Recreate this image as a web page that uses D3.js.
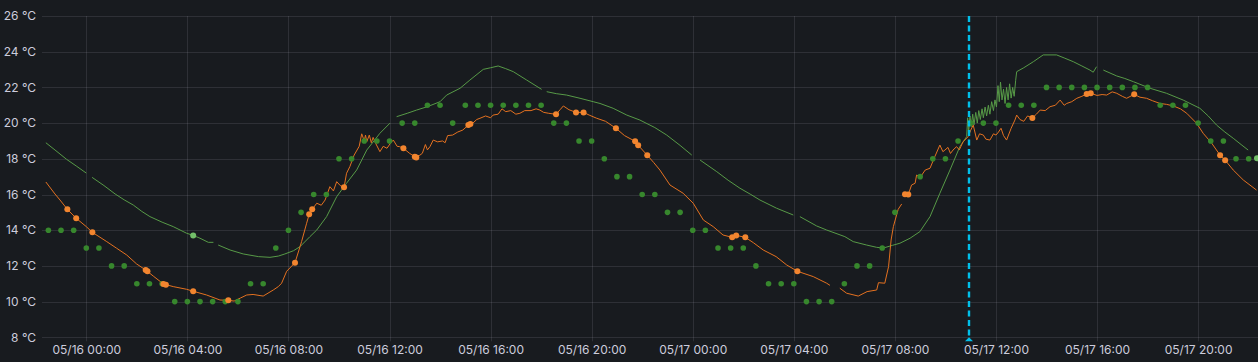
<!DOCTYPE html>
<html>
<head>
<meta charset="utf-8">
<script src="https://cdn.jsdelivr.net/npm/d3@7"></script>
<style>
  html, body { margin: 0; padding: 0; background: #181b1f; }
  svg { display: block; font-family: Inter, "Noto Sans", sans-serif; }
  .lbl { fill: #ccccdc; font-size: 12px; }
</style>
</head>
<body>
<svg width="1258" height="362"></svg>
<script>
// hours relative to 05/16 00:00
let baseDate = new Date(2024, 4, 16, 0, 0);
let viewHours = [-1.753, 46.37];
let yTicks = [8, 10, 12, 14, 16, 18, 20, 22, 24, 26];
let annotationHour = 34.94;

// outdoor (green line), null breaks the line
let outdoor = [
  [-1.6,18.9],[-1.2,18.45],[-0.78,17.97],[-0.4,17.6],[0,17.2],null,
  [0.23,16.96],[0.7,16.5],[1.14,16.03],[1.5,15.7],[1.86,15.41],[2.2,15.05],[2.52,14.76],
  [3.0,14.45],[3.44,14.2],[3.97,13.83],[4.23,13.71],[4.5,13.55],[4.83,13.32],[5.03,13.32],null,
  [5.22,13.17],[5.69,12.89],[6.21,12.67],[6.81,12.52],[7.27,12.48],[7.6,12.55],[7.86,12.67],
  [8.2,12.85],[8.46,13.08],[8.85,13.64],[9.12,14.01],[9.51,14.76],[9.91,15.88],[10.3,16.63],
  [10.7,17.37],[11.1,18.49],[11.62,19.43],[12.02,20.0],null,
  [12.28,20.36],[12.7,20.55],[13.07,20.73],[13.5,20.92],[14.0,21.2],[14.26,21.57],[14.79,21.95],
  [15.18,22.41],[15.71,23.01],[16.0,23.1],[16.3,23.2],[16.6,23.05],[16.9,22.88],[17.43,22.41],
  [18.02,21.89],null,
  [18.22,21.76],[18.6,21.65],[19.01,21.57],[19.54,21.39],[20.06,21.2],[20.33,21.1],[20.85,20.83],
  [21.39,20.45],[21.91,20.17],[22.5,19.75],[22.97,19.33],[23.5,18.75],[23.96,18.21],null,
  [24.29,17.93],[24.95,17.28],[25.4,16.8],[25.87,16.35],[26.3,16.0],[26.66,15.69],[27.32,15.23],
  [27.98,14.85],null,
  [28.24,14.76],[28.9,14.24],[29.3,14.01],[30.02,13.64],[30.35,13.36],[30.88,13.17],[31.28,13.04],
  [31.54,13.0],[31.9,13.15],[32.2,13.27],[32.6,13.55],[32.99,13.92],[33.39,14.76],[33.78,16.07],
  [34.18,17.37],[34.57,18.68],[34.84,19.24],
  [34.88,20.3],[34.92,19.5],[34.97,20.4],[35.02,19.8],[35.08,20.5],[35.13,19.9],[35.2,20.6],
  [35.26,20.0],[35.32,20.7],[35.38,20.2],[35.45,20.8],[35.5,20.3],[35.57,20.9],[35.63,20.4],
  [35.7,21.0],[35.76,20.5],[35.83,21.2],[35.9,20.7],[35.96,21.3],[36.02,20.9],[36.08,22.1],
  [36.13,21.2],[36.18,22.3],[36.24,21.3],[36.3,21.9],[36.36,21.1],[36.42,22.0],[36.48,21.3],
  [36.54,22.2],[36.6,21.4],[36.66,22.0],[36.72,21.5],[36.78,22.4],[36.82,22.88],[37.1,23.1],
  [37.48,23.44],[37.87,23.82],[38.4,23.82],[38.7,23.65],[39.06,23.44],[39.4,23.2],[39.72,22.97],
  [39.85,22.85],[39.98,23.16],null,
  [40.25,22.97],[40.78,22.64],[41.1,22.5],[41.44,22.32],[42.1,21.95],[42.75,21.67],[43.41,21.29],
  [44.07,20.83],[44.4,20.4],[44.73,19.89],[45.06,19.5],[45.39,19.15],[45.7,18.8],[45.98,18.49],null,
  [46.33,18.03]
];
// isolated points of the green line
let outdoorPoints = [[4.23,13.71],[46.33,18.03]];

// indoor (orange line)
let indoor = [
  [-1.6,16.7],[-1.24,16.03],[-1.04,15.69],[-0.75,15.17],[-0.4,14.67],[0,14.2],[0.24,13.88],
  [0.81,13.36],[1.2,12.99],[1.6,12.61],[1.99,12.11],[2.35,11.77],[2.65,11.43],[3.05,10.99],
  [3.44,10.84],[3.97,10.69],[4.23,10.58],[4.76,10.37],[5.29,10.09],[5.62,10.07],[5.85,10.03],
  [6.1,10.2],[6.35,10.37],[6.6,10.4],[7.0,10.31],[7.4,10.65],[7.6,10.84],[7.73,11.03],[7.93,11.7],
  [8.26,12.18],[8.52,13.36],[8.72,14.39],[8.82,14.89],[8.94,15.17],[9.12,15.51],[9.3,15.4],
  [9.45,15.69],[9.64,16.44],[9.78,16.2],[9.91,16.72],[10.05,16.5],[10.2,16.4],[10.3,17.19],
  [10.43,17.56],[10.6,18.21],[10.8,18.7],[10.9,19.4],[11.0,19.0],[11.05,19.33],[11.1,18.96],
  [11.2,19.33],[11.28,18.9],[11.35,19.2],[11.45,18.87],[11.62,18.4],[11.75,18.7],[11.9,18.59],
  [12.05,18.9],[12.15,19.05],[12.3,18.7],[12.4,18.68],[12.55,18.59],[12.8,18.3],[13.0,18.12],
  [13.2,18.2],[13.3,18.31],[13.42,18.8],[13.5,18.5],[13.6,18.68],[13.73,19.05],[13.9,18.95],
  [14.1,19.0],[14.2,18.9],[14.3,19.3],[14.5,19.33],[14.7,19.5],[14.9,19.61],[15.12,19.89],
  [15.3,20.0],[15.45,20.2],[15.58,20.27],[15.8,20.4],[16.0,20.3],[16.1,20.45],[16.3,20.5],
  [16.45,20.8],[16.6,20.64],[16.8,20.7],[17.0,20.5],[17.16,20.55],[17.35,20.7],[17.6,20.7],
  [17.8,20.8],[17.95,20.73],[18.1,20.6],[18.3,20.55],[18.59,20.49],[18.75,20.75],[18.88,20.96],
  [19.1,20.75],[19.38,20.6],[19.68,20.6],[19.9,20.45],[20.2,20.27],[20.55,20.1],[20.96,19.71],
  [21.3,19.3],[21.72,18.98],[21.84,18.76],[22.2,18.2],[22.45,17.8],[22.7,17.37],[23.1,16.53],
  [23.62,16.07],[24.02,15.51],[24.42,14.57],[24.81,14.2],[25.2,13.73],[25.56,13.6],[25.72,13.71],
  [26.08,13.6],[26.4,13.3],[26.79,12.89],[27.3,12.52],[27.72,12.05],[28.14,11.7],[28.77,11.4],
  [29.3,11.03],[29.43,10.91],null,
  [29.82,10.75],[30.09,10.47],[30.55,10.31],[30.9,10.56],[31.28,10.65],[31.35,11.06],[31.6,11.03],
  [31.75,11.96],[31.85,13.45],[31.94,14.2],[32.13,15.17],[32.27,15.47],null,
  [32.4,16.01],[32.53,16.0],[32.66,16.53],[32.8,16.63],[32.86,17.09],[33.0,16.96],[33.2,17.37],
  [33.39,17.47],[33.58,18.12],[33.78,18.77],[33.9,18.4],[33.98,18.49],[34.1,18.64],[34.2,18.3],
  [34.3,18.49],[34.44,18.68],[34.55,18.5],[34.7,18.96],[34.9,19.24],[35.0,19.6],[35.1,19.89],
  [35.24,19.05],[35.35,19.4],[35.5,19.33],[35.6,19.1],[35.76,19.05],[35.9,19.4],[36.0,19.33],
  [36.1,19.5],[36.2,19.71],[36.3,19.3],[36.42,19.05],[36.6,19.71],[36.75,20.17],[36.82,20.45],
  [36.95,20.2],[37.1,20.1],[37.25,20.4],[37.44,20.29],[37.6,20.5],[37.75,20.73],[37.95,20.7],
  [38.14,20.92],[38.35,21.0],[38.54,21.29],[38.7,21.0],[38.8,21.1],[39.0,21.2],[39.2,21.39],
  [39.4,21.5],[39.59,21.63],[39.75,21.67],[40.0,21.55],[40.2,21.6],[40.38,21.57],[40.6,21.75],
  [40.78,21.67],[41.0,21.5],[41.17,21.39],[41.47,21.61],[41.7,21.45],[41.96,21.39],[42.2,21.25],
  [42.49,21.1],[42.75,21.05],[43.02,20.96],[43.3,20.8],[43.55,20.55],[43.94,19.99],[44.2,19.43],
  [44.54,18.87],[44.87,18.2],[45.07,17.92],[45.39,17.37],[45.79,16.81],[46.31,16.25]
];
let indoorPoints = [
  [-0.75,15.17],[-0.4,14.67],[0.24,13.88],[2.35,11.77],[2.42,11.7],[3.05,10.99],[3.15,10.95],
  [4.23,10.58],[5.62,10.07],[8.26,12.18],[8.82,14.89],[8.94,15.17],[10.2,16.4],[12.55,18.59],
  [13.0,18.12],[13.06,18.07],[15.12,19.89],[15.2,19.95],[18.59,20.49],[19.38,20.6],[19.68,20.6],
  [20.96,19.71],[21.72,18.98],[21.84,18.76],[22.2,18.2],[25.56,13.6],[25.72,13.71],[26.08,13.6],
  [28.14,11.7],[32.4,16.01],[32.53,16.0],[37.44,20.29],[39.59,21.63],[39.75,21.67],[41.47,21.61],
  [44.87,18.2],[45.07,17.92]
];

// forecast (green dots), every half hour
let forecastHours = [
  -1.5,-1,-0.5,0,0.5,1,1.5,2,2.5,3,3.5,4,4.5,5,5.5,6,6.5,7,7.5,8,8.5,9,9.5,10,10.5,11,11.5,12,
  12.5,13,13.5,14,14.5,15,15.5,16,16.5,17,17.5,18,18.5,19,19.5,20,20.5,21,21.5,22,22.5,23,23.5,
  24,24.5,25,25.5,26,26.5,27,27.5,28,28.5,29,29.5,30,30.5,31,31.5,32,32.5,33,33.5,34,34.5,35,
  35.5,36,36.5,37,37.5,38,38.5,39,39.5,40,40.5,41,41.5,42,42.5,43,43.5,44,44.5,45,45.5,46
];
let forecastValues = [
  14,14,14,13,13,12,12,11,11,11,10,10,10,10,10,10,11,11,13,14,15,16,16,18,18,19,19,19,
  20,20,21,21,20,21,21,21,21,21,21,21,20,20,19,19,18,17,17,16,16,15,15,
  14,14,13,13,13,12,11,11,11,10,10,10,11,12,12,13,15,16,17,18,18,19,20,
  20,20,21,21,21,22,22,22,22,22,22,22,22,22,21,21,21,20,19,19,18,18
];

let toDate = h => new Date(baseDate.getTime() + h * 3600000);

let svg = d3.select('svg');
let plotLeft = 42, plotRight = 1258, plotTop = 16, plotBottom = 337.3;

let xScale = d3.scaleTime()
  .domain(viewHours.map(toDate))
  .range([plotLeft, plotRight]);

let yScale = d3.scaleLinear()
  .domain([8, 26])
  .range([plotBottom, plotTop]);

let xTicks = d3.timeHour.every(4).range(xScale.domain()[0], xScale.domain()[1]);
let fmt = d3.timeFormat('%m/%d %H:%M');

// grid
let grid = svg.append('g').attr('stroke', 'rgba(204,204,220,0.12)').attr('stroke-width', 1);
grid.selectAll('line.h')
  .data(yTicks)
  .enter()
  .append('line')
  .attr('x1', plotLeft).attr('x2', plotRight)
  .attr('y1', d => Math.round(yScale(d)) + 0.5)
  .attr('y2', d => Math.round(yScale(d)) + 0.5);
grid.selectAll('line.v')
  .data(xTicks)
  .enter()
  .append('line')
  .attr('x1', d => Math.round(xScale(d)) + 0.5)
  .attr('x2', d => Math.round(xScale(d)) + 0.5)
  .attr('y1', plotTop).attr('y2', plotBottom + 4);

// y labels
svg.append('g')
  .selectAll('text')
  .data(yTicks)
  .enter()
  .append('text')
  .attr('class', 'lbl')
  .attr('x', 36)
  .attr('y', d => yScale(d))
  .attr('dy', '0.35em')
  .attr('text-anchor', 'end')
  .text(d => d + ' °C');

// x axis
let xAxis = d3.axisBottom(xScale).tickValues(xTicks).tickFormat(fmt).tickSize(0).tickPadding(0);
let xg = svg.append('g')
  .attr('transform', `translate(0, ${plotBottom})`)
  .call(xAxis);
xg.select('.domain').remove();
xg.selectAll('text')
  .attr('class', 'lbl')
  .attr('y', 17)
  .attr('dy', 0)
  .attr('fill', null)
  .style('font-size', '12px')
  .style('font-family', 'Inter, "Noto Sans", sans-serif');

let line = d3.line()
  .defined(d => d !== null)
  .x(d => xScale(toDate(d[0])))
  .y(d => yScale(d[1]));

let plot = svg.append('g');

plot.append('path')
  .datum(outdoor)
  .attr('d', line)
  .attr('fill', 'none')
  .attr('stroke', '#579a47')
  .attr('stroke-width', 1);

plot.append('path')
  .datum(indoor)
  .attr('d', line)
  .attr('fill', 'none')
  .attr('stroke', '#E4711F')
  .attr('stroke-width', 1);

plot.selectAll('circle.fc')
  .data(forecastValues)
  .enter()
  .append('circle')
  .attr('cx', (d, i) => xScale(toDate(forecastHours[i])))
  .attr('cy', d => yScale(d))
  .attr('r', 2.8)
  .attr('fill', '#37872D');

plot.selectAll('circle.op')
  .data(outdoorPoints)
  .enter()
  .append('circle')
  .attr('cx', d => xScale(toDate(d[0])))
  .attr('cy', d => yScale(d[1]))
  .attr('r', 3)
  .attr('fill', '#73BF69');

plot.selectAll('circle.ip')
  .data(indoorPoints)
  .enter()
  .append('circle')
  .attr('cx', d => xScale(toDate(d[0])))
  .attr('cy', d => yScale(d[1]))
  .attr('r', 3)
  .attr('fill', '#F2852F');

// annotation
let ax = Math.round(xScale(toDate(annotationHour)));
svg.append('line')
  .attr('x1', ax).attr('x2', ax)
  .attr('y1', plotTop).attr('y2', plotBottom)
  .attr('stroke', '#00c0ea')
  .attr('stroke-width', 2.4)
  .attr('stroke-dasharray', '6,3.5');
svg.append('path')
  .attr('d', `M${ax - 4},${plotBottom + 4}L${ax},${plotBottom}L${ax + 4},${plotBottom + 4}Z`)
  .attr('fill', '#00c0ea');
</script>
</body>
</html>
